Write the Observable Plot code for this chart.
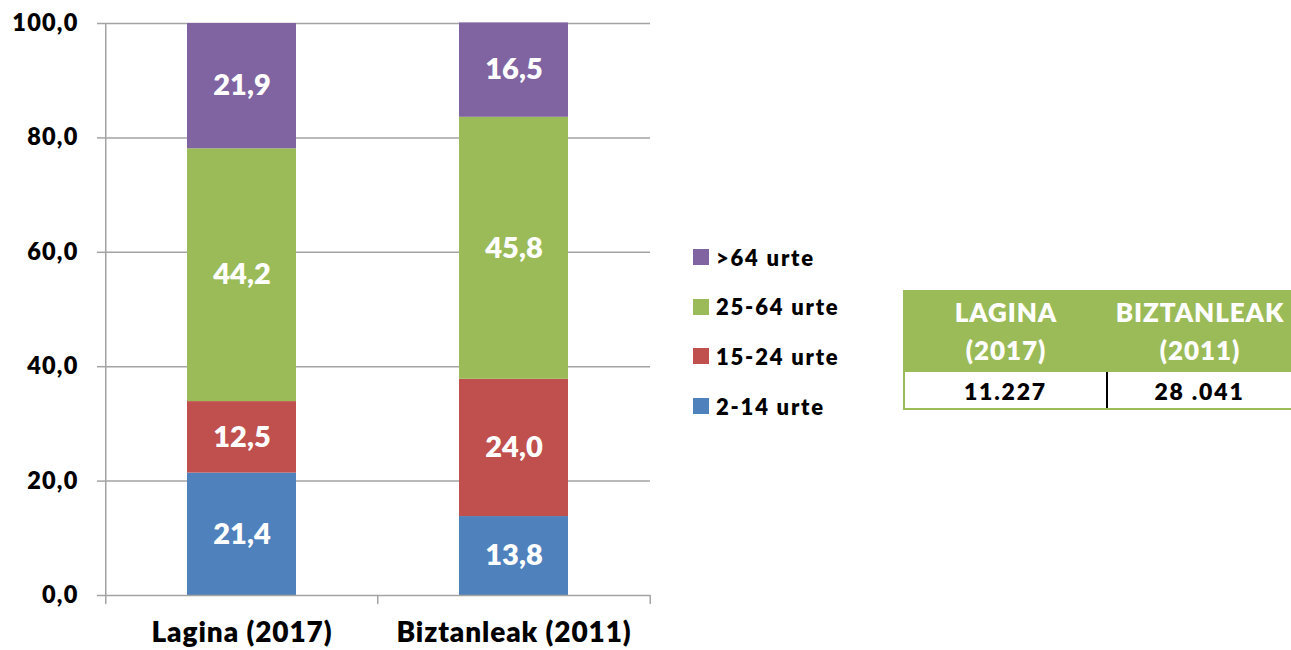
<!DOCTYPE html>
<html>
<head>
<meta charset="utf-8">
<script src="https://cdn.jsdelivr.net/npm/d3@7"></script>
<script src="https://cdn.jsdelivr.net/npm/@observablehq/plot@0.6"></script>
<style>
  html, body { margin: 0; padding: 0; background: #fff; overflow: hidden; }
  body { width: 1291px; height: 650px; position: relative; font-family: Lato, "Open Sans", sans-serif; }
  #chart { position: absolute; left: 0; top: 0; }
  #legend { position: absolute; left: 693px; top: 243px; font-weight: 800; font-size: 22px; letter-spacing: 1.8px; color: #000; }
  #legend .item { display: flex; align-items: center; height: 28px; margin-bottom: 21.7px; }
  #legend .sw { width: 16px; height: 16px; margin-right: 7px; }
  #tbl { position: absolute; left: 903px; top: 290px; width: 388px; overflow: hidden; }
  #tbl .head { display: flex; background: #9BBB59; height: 82px; color: #fff; font-weight: 800; font-size: 26px; letter-spacing: 0.9px; }
  #tbl .head div { text-align: center; line-height: 38px; padding-top: 3px; }
  #tbl .head div:first-child { width: 206px; }
  #tbl .head div:last-child { width: 182px; }
  #tbl .body { display: flex; height: 36px; border-left: 2px solid #9BBB59; border-bottom: 2px solid #9BBB59; font-weight: 800; font-size: 23px; letter-spacing: 1.8px; color: #000; }
  #tbl .body div { text-align: center; line-height: 38px; }
  #tbl .body div:first-child { width: 202px; border-right: 2px solid #000; }
  #tbl .body div:last-child { width: 184px; }
</style>
</head>
<body>
<div id="chart"></div>
<div id="legend"></div>
<div id="tbl"></div>
<script>
// ---- data ----
const categories = ["Lagina (2017)", "Biztanleak (2011)"];
const series = ["2-14 urte", "15-24 urte", "25-64 urte", ">64 urte"];
const laginaValues = [21.4, 12.5, 44.2, 21.9];
const biztanleakValues = [13.8, 24.0, 45.8, 16.5];
const seriesColors = ["#4F81BD", "#C0504D", "#9BBB59", "#8064A2"];
const yTicks = [0, 20, 40, 60, 80, 100];
const tableHeaders = [["LAGINA", "(2017)"], ["BIZTANLEAK", "(2011)"]];
const tableValues = ["11.227", "28 .041"];

const fmt = v => v.toFixed(1).replace(".", ",");
const valuesByCat = [laginaValues, biztanleakValues];
const rows = [];
categories.forEach((c, ci) => series.forEach((s, si) => rows.push({cat: c, series: s, value: valuesByCat[ci][si]})));

const W = 1291, H = 650;
const mL = 105, mR = 641, mT = 23, mB = 55;
const step = (W - mL - mR) / (categories.length - 0.6 + 0.6);
const half = step / 2;
const gray = "#a3a3a3";
const tickShape = {draw(context, l) { context.moveTo(0, 0); context.lineTo(0, -l); }};

const chart = Plot.plot({
  width: W, height: H,
  marginLeft: mL, marginRight: mR, marginTop: mT, marginBottom: mB,
  style: {fontFamily: "Lato, 'Open Sans', sans-serif", fontWeight: "800", color: "#000", background: "transparent"},
  x: {type: "band", domain: categories, paddingInner: 0.6, paddingOuter: 0.3, label: null},
  y: {domain: [0, 100], label: null},
  color: {domain: series, range: seriesColors},
  marks: [
    Plot.gridY(yTicks.filter(t => t > 0), {stroke: gray, strokeOpacity: 1, strokeWidth: 1.5}),
    Plot.barY(rows, {x: "cat", y: "value", z: "series", fill: "series"}),
    Plot.text(rows, Plot.stackY({x: "cat", y: "value", z: "series", text: d => fmt(d.value), fill: "white", fontSize: 29, fontWeight: "800", style: "letter-spacing:1.6px"})),
    Plot.ruleY([0], {stroke: gray, strokeWidth: 1.5}),
    Plot.ruleX([categories[0]], {x: d => d, y1: 0, y2: 100, dx: -half, stroke: gray, strokeWidth: 1.5}),
    Plot.vector(categories, {x: d => d, y: 0, length: 8, rotate: 180, anchor: "start", shape: tickShape, dx: -half, stroke: gray, strokeWidth: 1.5}),
    Plot.vector([categories[categories.length - 1]], {x: d => d, y: 0, length: 8, rotate: 180, anchor: "start", shape: tickShape, dx: half, stroke: gray, strokeWidth: 1.5}),
    Plot.axisY(yTicks, {tickSize: 8, tickPadding: 19, tickFormat: fmt, fontSize: 23.5, fontWeight: "800", stroke: gray, fill: "#000", strokeWidth: 1.5}),
    Plot.axisX({tickSize: 0, tickPadding: 27, fontSize: 28, fontWeight: "800", fill: "#000"})
  ]
});
chart.querySelectorAll("g[aria-label='y-axis tick label'] text").forEach(t => t.style.letterSpacing = "1.2px");
chart.querySelectorAll("g[aria-label='x-axis tick label'] text").forEach(t => t.style.letterSpacing = "0.9px");
document.getElementById("chart").appendChild(chart);

// legend (top-down order: reversed series)
const legend = document.getElementById("legend");
series.slice().reverse().forEach(s => {
  const i = series.indexOf(s);
  const it = document.createElement("div");
  it.className = "item";
  it.innerHTML = `<span class="sw" style="background:${seriesColors[i]}"></span><span>${s.replace(">", "&gt;")}</span>`;
  legend.appendChild(it);
});

// table
const tbl = document.getElementById("tbl");
const head = document.createElement("div");
head.className = "head";
tableHeaders.forEach(h => { const d = document.createElement("div"); d.innerHTML = h.join("<br>"); head.appendChild(d); });
const body = document.createElement("div");
body.className = "body";
tableValues.forEach(v => { const d = document.createElement("div"); d.textContent = v; body.appendChild(d); });
tbl.appendChild(head);
tbl.appendChild(body);
</script>
</body>
</html>
